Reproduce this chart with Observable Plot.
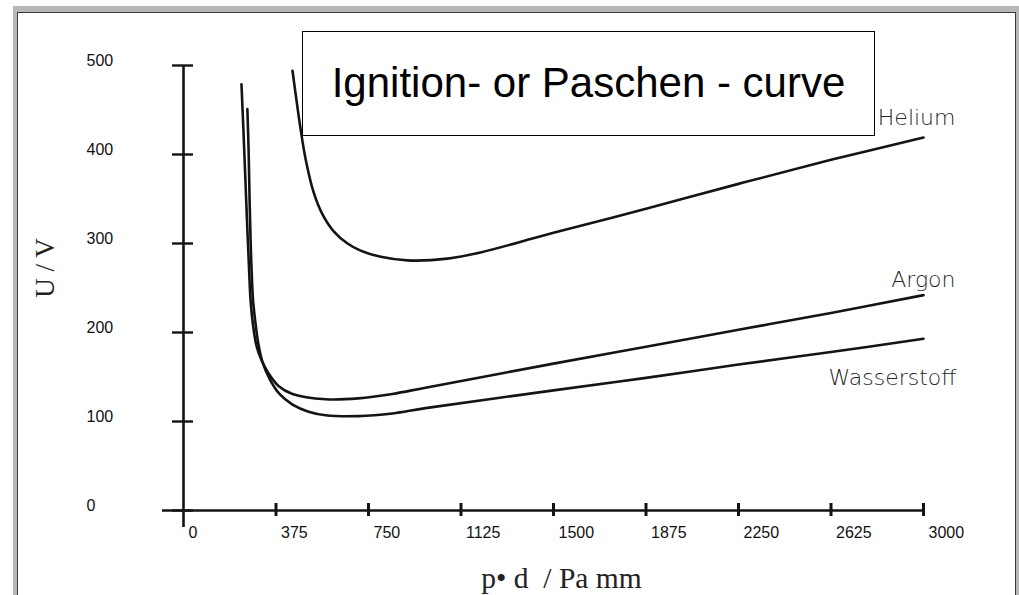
<!DOCTYPE html>
<html>
<head>
<meta charset="utf-8">
<script src="https://cdn.jsdelivr.net/npm/d3@7"></script>
<script src="https://cdn.jsdelivr.net/npm/@observablehq/plot@0.6"></script>
<style>
  html, body { margin: 0; padding: 0; background: #fff; width: 1019px; height: 595px; overflow: hidden; }
  #frame { position: absolute; left: 13px; top: 6px; width: 1006px; height: 589px; background: #b8b8b8; }
  #inner { position: absolute; left: 17px; top: 12px; width: 999px; height: 583px; background: #fff;
           border-left: 1.5px solid #3a3a3a; border-top: 1.5px solid #3a3a3a; border-right: 1.5px solid #3a3a3a; box-sizing: border-box; }
  #chart { position: absolute; left: 0; top: 0; }
  #chart svg text { white-space: pre; }
  #title { position: absolute; left: 302px; top: 31px; width: 573px; height: 105px; box-sizing: border-box;
           border: 1.5px solid #000; background: #fff; }
  #title span { position: absolute; left: 0; right: 0; top: 27px; line-height: 48px; text-align: center;
           font-family: "Liberation Sans", Arial, sans-serif; font-size: 42px; color: #000; }
</style>
</head>
<body>
<div id="frame"></div>
<div id="inner"></div>
<div id="chart"></div>
<div id="title"><span>Ignition- or Paschen - curve</span></div>
<script>
// Tick values
const xTicks = [0, 375, 750, 1125, 1500, 1875, 2250, 2625, 3000];
const yTicks = [0, 100, 200, 300, 400, 500];

// Series (p·d in Pa mm, U in V)
const heliumPd = [442, 474, 495, 527, 563, 608, 665, 718, 800, 908, 1070, 1204, 1407, 1500, 1875, 2250, 2625, 3000];
const heliumU  = [494, 430, 395, 358, 333, 314, 300, 292, 285, 281, 283, 290, 305, 312, 339, 367, 394, 419];

const argonPd = [235, 243, 251, 259, 266, 272, 282, 296, 316, 345, 385, 442, 576, 709, 847, 981, 1500, 1875, 2250, 2625, 3000];
const argonU  = [479, 427, 371, 315, 270, 236, 208, 185, 169, 154, 140, 131, 125, 126, 131, 138, 165, 184, 203, 222, 242];

const wasserPd = [259, 264, 268, 272, 276, 282, 292, 303, 320, 349, 389, 442, 507, 576, 709, 847, 981, 1500, 1875, 2250, 2625, 3000];
const wasserU  = [451, 404, 348, 303, 270, 236, 210, 188, 167, 148, 131, 119, 111, 107, 106, 109, 115, 135, 149, 164, 178, 193];

const series = [
  {gas: "Helium", pd: heliumPd, u: heliumU},
  {gas: "Argon", pd: argonPd, u: argonU},
  {gas: "Wasserstoff", pd: wasserPd, u: wasserU}
];
const rows = series.flatMap(s => s.pd.map((pd, i) => ({gas: s.gas, pd, u: s.u[i]})));
const ends = series.map(s => ({gas: s.gas, pd: s.pd[s.pd.length - 1], u: s.u[s.u.length - 1]}));

const ink = "#141414";
const labelFont = "'DejaVu Sans', sans-serif";
const sans = "'Liberation Sans', Arial, sans-serif";
const serif = "'Liberation Serif', 'Times New Roman', serif";

const chart = Plot.plot({
  width: 1019,
  height: 595,
  marginLeft: 183,
  marginRight: 96,
  marginTop: 65,
  marginBottom: 85,
  style: {background: "transparent", overflow: "visible", fontFamily: sans},
  x: {domain: [0, 3000], axis: null},
  y: {domain: [0, 500], axis: null},
  marks: [
    // x axis line
    Plot.ruleY([0], {x1: 0, x2: 3000, insetLeft: -21, stroke: ink, strokeWidth: 2.6}),
    // y axis line
    Plot.ruleX([0], {y1: 500, y2: 0, insetBottom: -17, stroke: ink, strokeWidth: 2.6}),
    // y ticks crossing the axis
    Plot.ruleY(yTicks, {y: d => d, x1: 0, x2: 0, insetLeft: -11, insetRight: -10, stroke: ink, strokeWidth: 2.4}),
    // x ticks crossing the axis
    Plot.ruleX(xTicks.filter(d => d > 0), {x: d => d, y1: 0, y2: 0, insetTop: -7, insetBottom: -6, stroke: ink, strokeWidth: 3}),
    // tick labels
    Plot.text(xTicks, {x: d => d, y: 0, text: d => String(d), textAnchor: "start", dx: 5, dy: 22,
      fontSize: 16, fill: "#111", fontFamily: sans}),
    Plot.text(yTicks, {x: 0, y: d => d, text: d => String(d), textAnchor: "start", dx: -97, dy: -5,
      fontSize: 16, fill: "#111", fontFamily: sans}),
    // curves
    Plot.line(rows, {x: "pd", y: "u", z: "gas", curve: "catmull-rom", stroke: ink, strokeWidth: 2.6,
      strokeLinecap: "round", strokeLinejoin: "round"}),
    // curve labels
    Plot.text(ends.filter(d => d.gas === "Helium"), {x: "pd", y: "u", text: "gas", textAnchor: "end",
      dx: 32, dy: -20, fontSize: 22, fill: "#262626", fontFamily: labelFont, fontWeight: 300}),
    Plot.text(ends.filter(d => d.gas === "Argon"), {x: "pd", y: "u", text: "gas", textAnchor: "end",
      dx: 32, dy: -15, fontSize: 22, fill: "#262626", fontFamily: labelFont, fontWeight: 300}),
    Plot.text(ends.filter(d => d.gas === "Wasserstoff"), {x: "pd", y: "u", text: "gas", textAnchor: "end",
      dx: 33, dy: 39, fontSize: 22, fill: "#262626", fontFamily: labelFont, fontWeight: 300}),
    // axis titles
    Plot.text(["U / V"], {frameAnchor: "left", text: d => d, rotate: -90, dx: -138, dy: -20,
      textAnchor: "middle", lineAnchor: "middle", fontSize: 27, fill: "#222", fontFamily: serif}),
    Plot.text(["p\u2022 d  / Pa mm"], {frameAnchor: "bottom", text: d => d, dx: 8, dy: 68,
      textAnchor: "middle", lineAnchor: "middle", fontSize: 29.5, fill: "#222", fontFamily: serif})
  ]
});
document.getElementById("chart").appendChild(chart);
</script>
</body>
</html>
